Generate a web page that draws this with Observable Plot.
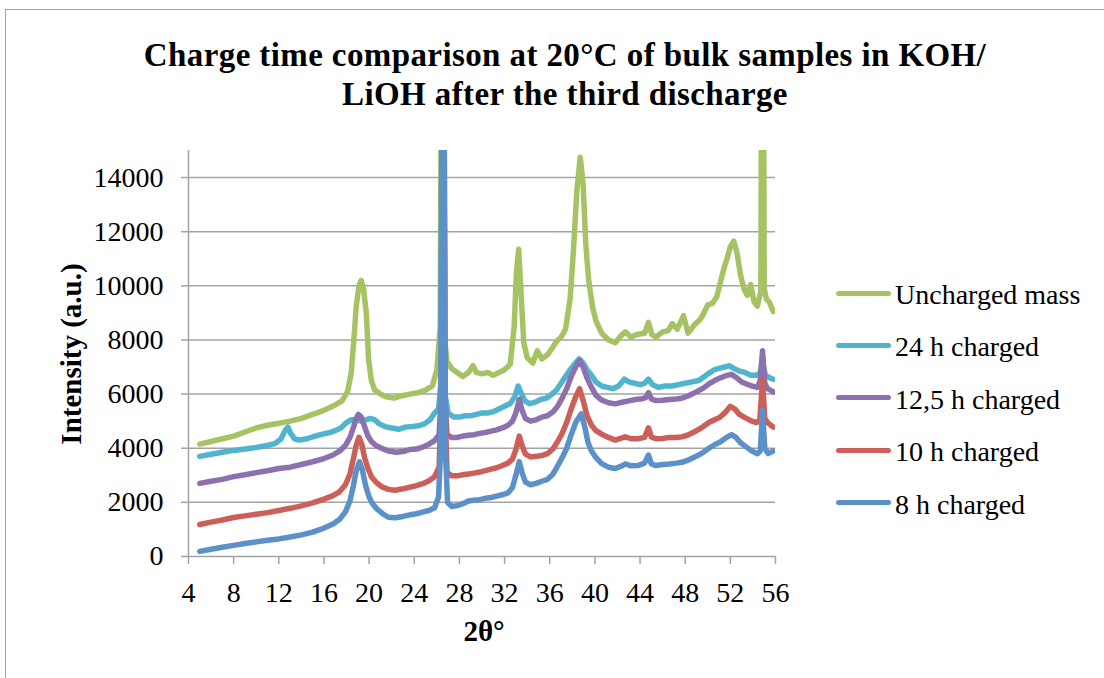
<!DOCTYPE html>
<html>
<head>
<meta charset="utf-8">
<script src="https://cdn.jsdelivr.net/npm/d3@7"></script>
<script src="https://cdn.jsdelivr.net/npm/@observablehq/plot@0.6"></script>
<style>
  html, body { margin: 0; padding: 0; background: #fff; overflow: hidden; }
  #wrap { position: relative; width: 1104px; height: 678px; overflow: hidden; font-family: "Liberation Serif", serif; color: #000; }
  #border { position: absolute; left: 5px; top: 9px; width: 1300px; height: 900px; border: 1.5px solid #a3a3a3; }
  #title { position: absolute; left: 0; width: 1130px; top: 36px; text-align: center; font-weight: bold; font-size: 33px; line-height: 39px; letter-spacing: 0.4px; }
  #ylab { position: absolute; left: 71px; top: 354px; transform: translate(-50%, -50%) rotate(-90deg); white-space: nowrap; font-weight: bold; font-size: 29px; line-height: 32px; }
  #xlab { position: absolute; left: 384px; width: 200px; top: 615px; text-align: center; font-weight: bold; font-size: 29px; line-height: 32px; }
  #chart { position: absolute; left: 0; top: 0; }
  .lg { position: absolute; left: 836px; display: flex; align-items: center; font-size: 28px; line-height: 30px; white-space: nowrap; }
  .sw { width: 55px; height: 5px; border-radius: 3px; margin-right: 4px; position: relative; top: -2px; }
</style>
</head>
<body>
<div id="wrap">
  <div id="border"></div>
  <div id="chart"></div>
  <div id="title">Charge time comparison at 20°C of bulk samples in KOH/<br>LiOH after the third discharge</div>
  <div id="ylab">Intensity (a.u.)</div>
  <div id="xlab">2θ°</div>
  <div id="legend"></div>
</div>
<script>
// ---- data ----
const xTicks = [4, 8, 12, 16, 20, 24, 28, 32, 36, 40, 44, 48, 52, 56];
const yTicks = [0, 2000, 4000, 6000, 8000, 10000, 12000, 14000];
const seriesNames = ["Uncharged mass", "24 h charged", "12,5 h charged", "10 h charged", "8 h charged"];

// [2θ, intensity]
const uncharged = [[5,4150],[6,4250],[7,4350],[8,4450],[9,4600],[10,4750],[11,4850],[12,4920],[13,5000],[14,5100],[15,5250],[16,5400],[17,5600],[17.6,5750],[18.1,6100],[18.4,6750],[18.65,8000],[18.85,9200],[19.1,10000],[19.3,10200],[19.5,9900],[19.75,9000],[19.95,7300],[20.2,6500],[20.5,6150],[21,6000],[21.5,5900],[22.2,5850],[23,5950],[23.6,6000],[24.3,6050],[25,6150],[25.6,6300],[26,6900],[26.3,8500],[26.5,30000],[26.7,8000],[26.9,7200],[27.3,6950],[27.8,6800],[28.3,6650],[28.8,6800],[29.2,7050],[29.5,6800],[30,6750],[30.5,6800],[31,6700],[31.5,6800],[32,6900],[32.5,7100],[32.85,8500],[33.05,10500],[33.25,11350],[33.45,9800],[33.7,7900],[34,7350],[34.5,7150],[34.9,7600],[35.3,7300],[35.8,7450],[36.3,7750],[36.6,7950],[37,8100],[37.4,8400],[37.8,9500],[38.1,11300],[38.4,13500],[38.7,14750],[38.95,13800],[39.2,11500],[39.45,10200],[39.8,9200],[40.1,8700],[40.6,8250],[41.2,8000],[41.8,7900],[42.3,8150],[42.7,8300],[43.2,8100],[43.7,8200],[44.4,8250],[44.75,8650],[45.05,8200],[45.4,8100],[46,8300],[46.5,8350],[46.85,8600],[47.3,8400],[47.85,8900],[48.25,8250],[48.8,8550],[49.3,8750],[49.6,8950],[50,9300],[50.4,9350],[50.8,9600],[51.1,10100],[51.4,10600],[51.7,11000],[52,11450],[52.3,11650],[52.6,11200],[52.9,10400],[53.2,9900],[53.5,9650],[53.8,10050],[54.1,9400],[54.4,9250],[54.7,9800],[54.85,30000],[55.0,9900],[55.2,9500],[55.45,9400],[55.8,9050]];
const charged24 = [[5,3700],[6,3780],[7,3850],[8,3920],[9,3970],[10,4030],[11,4100],[11.7,4180],[12.2,4350],[12.55,4650],[12.8,4780],[13.05,4550],[13.4,4350],[13.8,4300],[14.5,4350],[15,4420],[15.5,4480],[16,4530],[16.5,4580],[17,4650],[17.5,4750],[18,4950],[18.4,5050],[18.8,5050],[19.3,5000],[19.7,5050],[20.1,5100],[20.5,5050],[20.9,4900],[21.4,4800],[22,4750],[22.6,4700],[23.2,4780],[23.8,4800],[24.4,4830],[24.9,4900],[25.4,5050],[25.8,5300],[26.15,5450],[26.38,6500],[26.55,30000],[26.72,6000],[27,5300],[27.5,5150],[28,5150],[28.5,5200],[29,5200],[29.5,5250],[30,5300],[30.5,5300],[31,5350],[31.5,5450],[32,5550],[32.5,5650],[32.9,5900],[33.2,6300],[33.5,6000],[33.8,5750],[34.2,5650],[34.7,5700],[35.2,5800],[35.7,5850],[36.2,6000],[36.6,6150],[37,6400],[37.4,6650],[37.8,6900],[38.2,7100],[38.6,7300],[38.95,7150],[39.3,6900],[39.7,6700],[40.1,6450],[40.6,6300],[41.1,6250],[41.6,6200],[42.1,6300],[42.6,6550],[43,6450],[43.5,6400],[44,6350],[44.4,6400],[44.75,6550],[45.1,6350],[45.6,6250],[46.2,6300],[46.8,6300],[47.4,6350],[48,6400],[48.6,6450],[49.2,6500],[49.7,6650],[50.2,6800],[50.6,6900],[51,6950],[51.5,7000],[51.9,7050],[52.3,6950],[52.8,6850],[53.3,6800],[53.8,6700],[54.3,6700],[54.6,6750],[54.85,7200],[55.1,6700],[55.5,6600],[55.8,6550]];
const charged125 = [[5,2700],[6,2780],[7,2850],[8,2950],[9,3020],[10,3100],[11,3170],[12,3250],[13,3300],[14,3400],[15,3500],[16,3620],[16.8,3750],[17.4,3900],[17.9,4100],[18.3,4400],[18.6,4750],[18.85,5100],[19.05,5250],[19.3,5150],[19.6,4800],[19.9,4450],[20.2,4250],[20.6,4100],[21.1,4000],[21.7,3900],[22.4,3850],[23,3880],[23.6,3950],[24.2,3970],[24.8,4050],[25.3,4150],[25.8,4280],[26.2,4500],[26.4,6000],[26.55,30000],[26.7,6000],[26.9,4500],[27.3,4400],[27.8,4400],[28.3,4450],[28.8,4480],[29.3,4500],[29.8,4550],[30.3,4580],[30.8,4630],[31.3,4680],[31.8,4750],[32.3,4850],[32.7,5000],[33,5300],[33.3,5800],[33.55,5400],[33.85,5100],[34.3,5000],[34.8,5050],[35.3,5150],[35.8,5200],[36.3,5350],[36.7,5550],[37.1,5850],[37.5,6200],[37.9,6650],[38.3,7000],[38.65,7250],[39,6950],[39.3,6600],[39.7,6250],[40.1,5950],[40.6,5780],[41.2,5680],[41.8,5640],[42.4,5700],[43,5750],[43.6,5800],[44.2,5830],[44.5,5870],[44.75,6050],[45,5820],[45.4,5760],[46,5770],[46.6,5800],[47.2,5820],[47.7,5850],[48.2,5920],[48.7,6020],[49.2,6130],[49.6,6220],[50.1,6380],[50.6,6500],[51.1,6600],[51.6,6680],[52.1,6730],[52.5,6620],[53,6450],[53.4,6380],[53.9,6300],[54.4,6250],[54.65,6500],[54.85,7600],[55.05,6400],[55.3,6200],[55.8,6080]];
const charged10 = [[5,1180],[6,1270],[7,1350],[8,1440],[9,1500],[10,1560],[11,1620],[12,1700],[13,1780],[14,1870],[15,1980],[16,2120],[16.8,2250],[17.4,2400],[17.9,2650],[18.3,3050],[18.6,3600],[18.85,4100],[19.1,4400],[19.35,4150],[19.6,3650],[19.9,3250],[20.2,2950],[20.6,2750],[21.1,2580],[21.7,2480],[22.3,2450],[23,2500],[23.6,2560],[24.2,2620],[24.8,2700],[25.3,2800],[25.8,2950],[26.2,3300],[26.4,6000],[26.55,30000],[26.7,6000],[26.9,3100],[27.3,2980],[27.8,2980],[28.3,3020],[28.8,3050],[29.3,3080],[29.8,3120],[30.3,3170],[30.8,3230],[31.3,3280],[31.8,3360],[32.3,3450],[32.7,3600],[33,3950],[33.3,4450],[33.55,4100],[33.85,3780],[34.3,3680],[34.8,3700],[35.3,3730],[35.8,3800],[36.3,3980],[36.7,4250],[37.1,4550],[37.5,4950],[37.9,5450],[38.3,5900],[38.65,6200],[39,5700],[39.3,5200],[39.7,4850],[40.1,4650],[40.6,4520],[41.2,4400],[41.8,4300],[42.4,4380],[42.7,4420],[43.2,4350],[43.8,4350],[44.4,4400],[44.75,4750],[45,4420],[45.4,4350],[46,4360],[46.6,4400],[47.2,4400],[47.7,4420],[48.2,4480],[48.7,4580],[49.2,4700],[49.6,4800],[50.1,4950],[50.6,5050],[51.1,5150],[51.6,5350],[52,5550],[52.4,5450],[52.8,5250],[53.3,5130],[53.8,5020],[54.3,4950],[54.6,5000],[54.85,6500],[55.05,5100],[55.3,4950],[55.8,4780]];
const charged8 = [[5,190],[6,270],[7,340],[8,410],[9,480],[10,540],[11,600],[12,650],[13,720],[14,800],[15,900],[16,1050],[16.8,1200],[17.4,1380],[17.9,1650],[18.3,2050],[18.6,2600],[18.85,3150],[19.15,3500],[19.4,3200],[19.7,2600],[20,2200],[20.3,1950],[20.7,1750],[21.2,1580],[21.7,1450],[22.3,1430],[23,1480],[23.6,1540],[24.2,1580],[24.8,1650],[25.3,1700],[25.8,1800],[26.15,2200],[26.35,4000],[26.55,30000],[26.75,4000],[26.95,2000],[27.3,1850],[27.8,1880],[28.3,1950],[28.8,2050],[29.3,2080],[29.8,2100],[30.3,2150],[30.8,2180],[31.3,2230],[31.8,2280],[32.3,2350],[32.7,2550],[33,3000],[33.3,3500],[33.55,3100],[33.85,2750],[34.3,2650],[34.8,2700],[35.3,2780],[35.8,2850],[36.3,3050],[36.7,3350],[37.1,3650],[37.5,4000],[37.9,4500],[38.3,4950],[38.8,5270],[39.1,4800],[39.4,4200],[39.7,3900],[40.1,3650],[40.6,3430],[41.2,3300],[41.8,3250],[42.4,3350],[42.7,3420],[43.2,3350],[43.8,3360],[44.4,3450],[44.75,3750],[45,3420],[45.4,3360],[46,3400],[46.6,3420],[47.2,3450],[47.7,3480],[48.2,3550],[48.7,3650],[49.2,3750],[49.6,3850],[50.1,4000],[50.6,4130],[51.1,4230],[51.6,4380],[52.1,4500],[52.5,4400],[52.9,4200],[53.4,4050],[53.9,3900],[54.4,3800],[54.65,3900],[54.85,5400],[55.05,4000],[55.35,3800],[55.8,3900]];

const seriesValues = [uncharged, charged24, charged125, charged10, charged8];
const seriesColors = ["#a6c364", "#50b4cf", "#8c71ae", "#cc5f57", "#5b90c9"];

// ---- build table ----
const rows = seriesNames.flatMap((name, i) => seriesValues[i].map(([x, y]) => ({series: name, x, y})));
const grey = "#a3a3a3";

const chart = Plot.plot({
  width: 1104,
  height: 678,
  marginLeft: 188,
  marginRight: 329,
  marginTop: 150,
  marginBottom: 122,
  style: {fontFamily: "'Liberation Serif', serif", fontSize: "28px", color: "#000", background: "transparent", overflow: "visible"},
  x: {domain: [4, 56]},
  y: {domain: [0, 15000]},
  color: {domain: seriesNames, range: seriesColors},
  marks: [
    Plot.gridY(yTicks.filter(d => d > 0), {stroke: grey, strokeOpacity: 1, strokeWidth: 1.5}),
    Plot.ruleX([4], {stroke: grey, strokeWidth: 1.5}),
    Plot.ruleY([0], {stroke: grey, strokeWidth: 1.5}),
    Plot.line(rows, {x: "x", y: "y", z: "series", stroke: "series", strokeWidth: 5.5, strokeLinejoin: "round", strokeLinecap: "round", clip: true}),
    Plot.axisY({ticks: yTicks, tickSize: 7, tickPadding: 18, stroke: grey, strokeWidth: 1.5, fontSize: 28, label: null, tickFormat: d => String(d)}),
    Plot.axisX({ticks: xTicks, tickSize: 8, tickPadding: 18, stroke: grey, strokeWidth: 1.5, fontSize: 28, label: null, tickFormat: d => String(d)})
  ]
});
document.getElementById("chart").appendChild(chart);

// ---- legend ----
const legend = document.getElementById("legend");
seriesNames.forEach((name, i) => {
  const row = document.createElement("div");
  row.className = "lg";
  row.style.top = (280 + i * 52.4) + "px";
  const sw = document.createElement("span");
  sw.className = "sw";
  sw.style.background = seriesColors[i];
  const tx = document.createElement("span");
  tx.textContent = name;
  row.appendChild(sw);
  row.appendChild(tx);
  legend.appendChild(row);
});
</script>
</body>
</html>
